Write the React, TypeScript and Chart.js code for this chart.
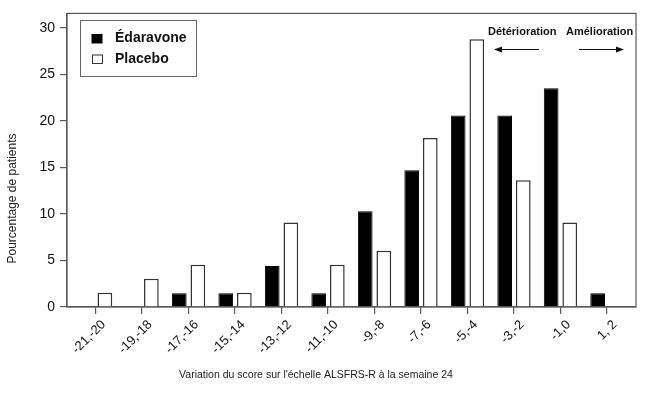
import React, { useEffect, useRef } from "react";
import { Chart, registerables } from "chart.js";

Chart.register(...registerables);

const categories = ["-21,-20", "-19,-18", "-17,-16", "-15,-14", "-13,-12", "-11,-10", "-9,-8", "-7,-6", "-5,-4", "-3,-2", "-1,0", "1, 2"];
const edaravone = [0, 0, 1.47, 1.47, 4.41, 1.47, 10.29, 14.71, 20.59, 20.59, 23.53, 1.47];
const placebo = [1.52, 3.03, 4.55, 1.52, 9.09, 4.55, 6.06, 18.18, 28.79, 13.64, 9.09, 0];
const yTicks = [0, 5, 10, 15, 20, 25, 30];
const seriesNames = ["Édaravone", "Placebo"];
const xTitle = "Variation du score sur l'échelle ALSFRS-R à la semaine 24";
const yTitle = "Pourcentage de patients";
const leftNote = "Détérioration";
const rightNote = "Amélioration";

const AXIS = "#5a5a5a";
const FONT = "'Liberation Sans', Arial, sans-serif";

const toPoints = (arr: number[]) => arr.map((v, i) => ({ x: i, y: v === 0 ? null : v }));

const decorPlugin = {
  id: "decor",
  afterDraw(chart: any) {
    const ctx = chart.ctx;
    const a = chart.chartArea;
    ctx.save();
    // box around plot area
    ctx.strokeStyle = AXIS;
    ctx.lineWidth = 1.2;
    ctx.strokeRect(a.left, a.top, a.right - a.left, a.bottom - a.top);

    // legend box
    ctx.strokeStyle = "#666";
    ctx.lineWidth = 1;
    ctx.strokeRect(80.5, 20.5, 116, 56);
    ctx.fillStyle = "#000";
    ctx.fillRect(91.5, 34, 11, 9.5);
    ctx.fillStyle = "#fff";
    ctx.strokeStyle = "#333";
    ctx.fillRect(92.5, 55, 10, 8.5);
    ctx.strokeRect(92.5, 55, 10, 8.5);
    ctx.fillStyle = "#111";
    ctx.font = `bold 14px ${FONT}`;
    ctx.textAlign = "left";
    ctx.textBaseline = "middle";
    ctx.fillText(seriesNames[0], 115, 38);
    ctx.fillText(seriesNames[1], 115, 59);

    // annotations
    ctx.font = `bold 11px ${FONT}`;
    ctx.textAlign = "left";
    ctx.fillText(leftNote, 488, 31.5);
    ctx.fillText(rightNote, 566, 31.5);
    ctx.strokeStyle = "#111";
    ctx.fillStyle = "#111";
    ctx.lineWidth = 1;
    // left arrow
    ctx.beginPath();
    ctx.moveTo(539, 49.5);
    ctx.lineTo(500, 49.5);
    ctx.stroke();
    ctx.beginPath();
    ctx.moveTo(494, 49.5);
    ctx.lineTo(502, 46.5);
    ctx.lineTo(502, 52.5);
    ctx.closePath();
    ctx.fill();
    // right arrow
    ctx.beginPath();
    ctx.moveTo(579, 49.5);
    ctx.lineTo(617, 49.5);
    ctx.stroke();
    ctx.beginPath();
    ctx.moveTo(624, 49.5);
    ctx.lineTo(616, 46.5);
    ctx.lineTo(616, 52.5);
    ctx.closePath();
    ctx.fill();

    // axis titles
    ctx.fillStyle = "#222";
    ctx.font = `10.5px ${FONT}`;
    ctx.textAlign = "center";
    ctx.textBaseline = "middle";
    ctx.fillText(xTitle, 316, 375);
    ctx.save();
    ctx.translate(13, 198.5);
    ctx.rotate(-Math.PI / 2);
    ctx.font = `12px ${FONT}`;
    ctx.fillText(yTitle, 0, 0);
    ctx.restore();
    ctx.restore();
  },
};

export default function App() {
  const ref = useRef<HTMLCanvasElement>(null);
  useEffect(() => {
    if (!ref.current) return;
    const chart = new Chart(ref.current, {
      type: "bar",
      data: {
        datasets: [
          {
            label: seriesNames[0],
            data: toPoints(edaravone) as any,
            backgroundColor: "#000",
            borderColor: "#000",
            borderWidth: 1,
            categoryPercentage: 0.8,
            barPercentage: 0.79,
          },
          {
            label: seriesNames[1],
            data: toPoints(placebo) as any,
            backgroundColor: "#fff",
            borderColor: "#333",
            borderWidth: 1.5,
            categoryPercentage: 0.8,
            barPercentage: 0.79,
          },
        ],
      },
      options: {
        responsive: false,
        animation: false,
        layout: { padding: { top: 8, right: 9, left: 0, bottom: 0 } },
        plugins: { legend: { display: false }, tooltip: { enabled: false } },
        scales: {
          x: {
            type: "linear",
            offset: false,
            min: -0.615,
            max: 11.625,
            afterFit: (s: any) => {
              s.height = 91;
            },
            afterBuildTicks: (s: any) => {
              s.ticks = categories.map((_, i) => ({ value: i }));
            },
            ticks: {
              stepSize: 1,
              includeBounds: false,
              autoSkip: false,
              maxRotation: 45,
              minRotation: 45,
              padding: 3,
              labelOffset: 8,
              color: "#111",
              font: { family: FONT, size: 13 },
              callback: (v: any) => categories[Math.round(Number(v))] ?? "",
            },
            grid: { offset: false, drawOnChartArea: false, drawTicks: true, tickLength: 7, color: AXIS, lineWidth: 1.2 },
            border: { display: true, color: AXIS, width: 1.2 },
          },
          y: {
            min: 0,
            max: 31.57,
            afterFit: (s: any) => {
              s.width = 67;
            },
            afterBuildTicks: (s: any) => {
              s.ticks = yTicks.map((v) => ({ value: v }));
            },
            ticks: {
              stepSize: 5,
              includeBounds: false,
              padding: 5,
              color: "#111",
              font: { family: FONT, size: 14 },
            },
            grid: { drawOnChartArea: false, drawTicks: true, tickLength: 7, color: AXIS, lineWidth: 1.2 },
            border: { display: true, color: AXIS, width: 1.2 },
          },
        },
      },
      plugins: [decorPlugin],
    });
    return () => chart.destroy();
  }, []);
  return (
    <div style={{ position: "absolute", left: 0, top: 0, width: 645, height: 398, background: "#fff" }}>
      <canvas ref={ref} width={645} height={398} style={{ display: "block" }} />
    </div>
  );
}
